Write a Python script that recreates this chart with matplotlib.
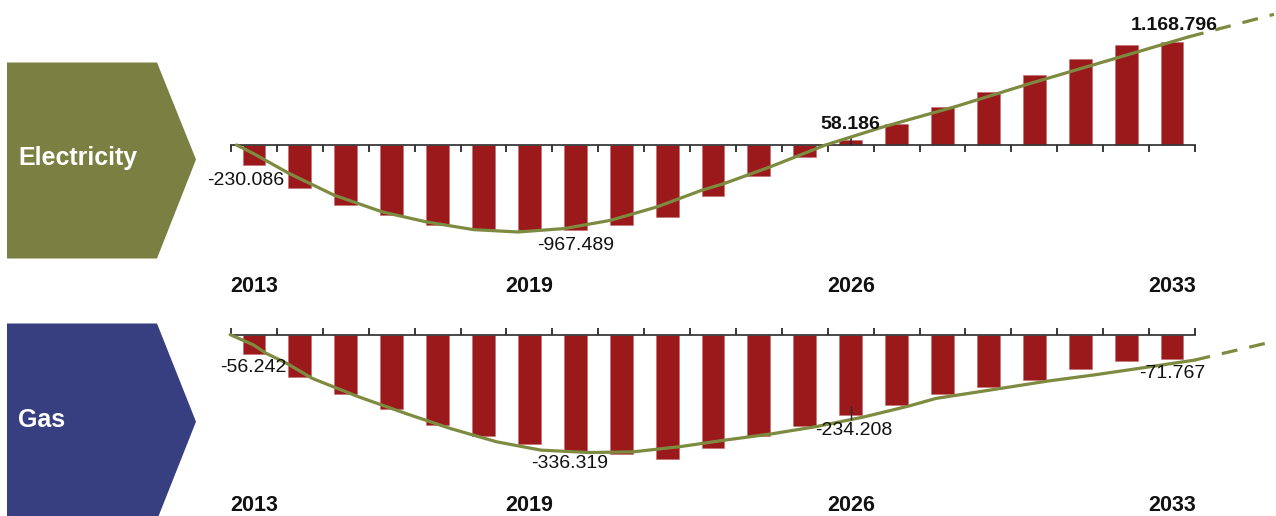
import matplotlib
matplotlib.use("Agg")
import matplotlib.pyplot as plt
from matplotlib.patches import Polygon

plt.rcParams['font.family'] = ['Liberation Sans', 'DejaVu Sans']

years = list(range(2013, 2034))
tick_years = [2013, 2019, 2026, 2033]
label_years = [2013, 2020, 2026, 2033]

electricity = [-230086, -487000, -681000, -802000, -908000, -958000, -965000,
               -967489, -908000, -820000, -575000, -358000, -131000, 58186,
               239000, 429000, 607000, 800000, 975000, 1135000, 1168796]
gas = [-56242, -123500, -172000, -216000, -263000, -294000, -316000,
       -336319, -347000, -361000, -330000, -294000, -264000, -234208,
       -205000, -173000, -151000, -133000, -101000, -78000, -71767]

# trend curves
e_curve_x = [2012.62, 2012.99, 2013.77, 2014.75, 2015.80, 2016.76, 2017.78, 2018.75,
             2019.76, 2020.77, 2021.77, 2022.75, 2023.24, 2024.24, 2025.45, 2026.70,
             2028.30, 2029.90, 2031.50, 2033.35]
e_curve_y = [0, -98000, -325000, -572000, -762000, -876000, -963000, -990000,
             -951000, -857000, -706000, -516000, -439000, -250000, 0, 205000,
             440000, 699000, 945000, 1229000]
e_trend_x = [2033.35, 2035.22]
e_trend_y = [1229000, 1487000]

g_curve_x = [2012.48, 2012.99, 2013.26, 2013.71, 2014.27, 2015.27, 2016.29, 2017.27,
             2018.29, 2019.25, 2020.30, 2021.26, 2022.28, 2023.26, 2024.27, 2025.24,
             2026.28, 2027.27, 2027.86, 2029.27, 2030.28, 2031.30, 2032.28, 2033.49]
g_curve_y = [0, -30000, -54000, -83000, -127000, -180000, -228000, -272000,
             -311000, -335000, -342000, -340000, -325000, -306000, -288000, -267000,
             -239000, -207000, -185000, -156000, -135000, -117000, -98000, -74000]
g_trend_x = [2033.49, 2035.27]
g_trend_y = [-74000, -18000]

BAR = '#9b191b'
LINE = '#7d8b40'
W, H = 1276, 516
XL = (2013 - 254 / 45.9, 2013 + (W - 254) / 45.9)


def fmt(v):
    return f"{v:,}".replace(',', '.')


fig = plt.figure(figsize=(W / 100, H / 100), dpi=100)


def panel(rows, axis_px, scale, values, cx, cy, tx, ty, tick_dir, year_y,
          offsets, bold_pos):
    top, bot = rows
    ax = fig.add_axes([0, (H - bot) / H, 1, (bot - top) / H])
    ax.set_xlim(*XL)
    ax.set_ylim(-(bot - axis_px) * scale, (axis_px - top) * scale)
    ax.axis('off')
    ax.bar(years, values, width=0.5, color=BAR, edgecolor='#c46a6a',
           linewidth=0.4, zorder=2)
    ax.plot([2012.5, 2033.5], [0, 0], color='#3a3a3a', lw=1.3, zorder=3)
    bounds = [y - 0.5 for y in years] + [years[-1] + 0.5]
    ax.vlines(bounds, 0, tick_dir * 7 * scale, color='#2a2a2a', lw=1.3, zorder=3)
    ax.plot(cx, cy, color=LINE, lw=2.3, zorder=4, solid_capstyle='round',
            solid_joinstyle='round')
    ax.plot(tx, ty, color=LINE, lw=2.3, ls=(0, (5, 3.8)), zorder=4)
    for yr in tick_years:
        ax.text(yr, -(year_y - axis_px) * scale, str(yr), ha='center',
                va='center', fontsize=15.5, fontweight='bold', color='#111111')
    for yr, (dx, dy) in zip(label_years, offsets):
        v = values[years.index(yr)]
        ax.annotate(fmt(v), (yr, v), xytext=(dx, -dy),
                    textcoords='offset pixels', ha='center', va='center',
                    fontsize=14, color='#111111',
                    fontweight='bold' if (bold_pos and v > 0) else 'normal',
                    zorder=5)
    return ax


ax_e = panel((0, 300), 145, 11381, electricity, e_curve_x, e_curve_y,
             e_trend_x, e_trend_y, -1, 287,
             [(-8, 15), (0, 15), (0, -15), (2, -17)], True)
ax_e.vlines(2026, 0, 7 * 11381, color='#2a2a2a', lw=1.2, zorder=3)

ax_g = panel((300, 516), 334.6, 2900, gas, g_curve_x, g_curve_y,
             g_trend_x, g_trend_y, 1, 505.5,
             [(-1, 14), (-6, 13), (3, 15), (0, 14)], False)
ax_g.vlines(2026, -(406 - 334.6) * 2900, -(420 - 334.6) * 2900,
            color='#2a2a2a', lw=1.0, zorder=5)

# chevron labels
ov = fig.add_axes([0, 0, 1, 1], zorder=-1)
ov.set_xlim(0, W)
ov.set_ylim(H, 0)
ov.axis('off')
ov.add_patch(Polygon([(7, 62.5), (157, 62.5), (196, 159.5), (157, 258.5), (7, 258.5)],
                     closed=True, color='#7a7f42', lw=0))
ov.add_patch(Polygon([(7, 323.5), (157, 323.5), (196, 421.7), (157, 520), (7, 520)],
                     closed=True, color='#373f81', lw=0))
ov.text(18, 158, 'Electricity', color='white', fontsize=18, fontweight='bold',
        va='center', ha='left')
ov.text(18, 420, 'Gas', color='white', fontsize=18, fontweight='bold',
        va='center', ha='left')

fig.savefig('out.png', dpi=100)
